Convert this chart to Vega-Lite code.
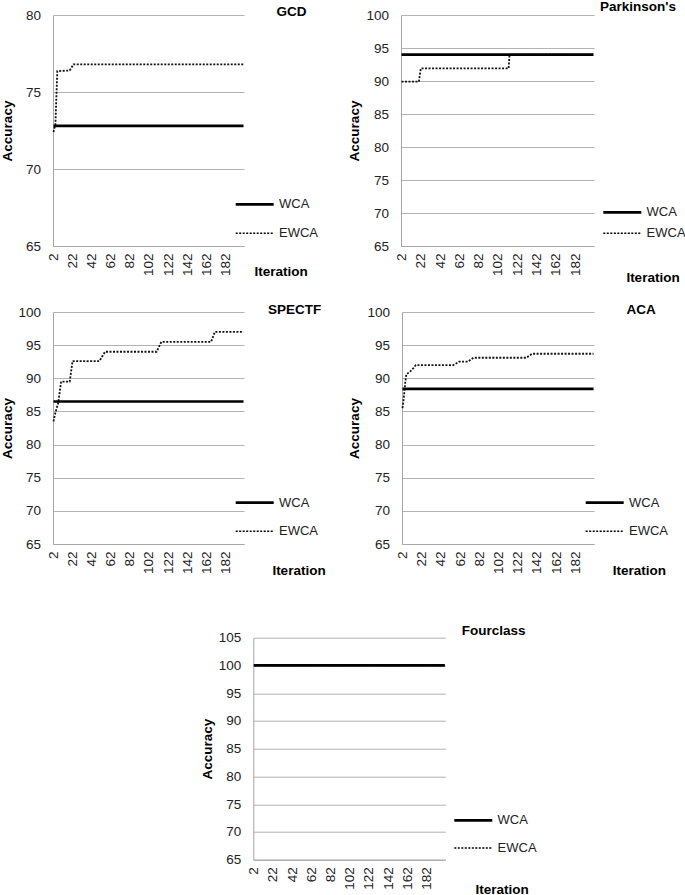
{
  "$schema": "https://vega.github.io/schema/vega-lite/v6.json",
  "padding": {"left": 0, "top": 0, "right": 0, "bottom": 0},
  "background": "white",
  "config": {
    "font": "Liberation Sans",
    "view": {"stroke": null},
    "axis": {
      "labelFont": "Liberation Sans", "labelFontSize": 13.5, "labelColor": "#222222",
      "titleFont": "Liberation Sans", "titleFontSize": 13.5, "titleFontWeight": "bold", "titleColor": "#000000",
      "ticks": false, "domainColor": "#a6a6a6", "domainWidth": 1, "gridColor": "#b3b3b3", "gridWidth": 1
    },
    "axisX": {"grid": false, "labelAngle": -90, "labelPadding": 7, "titleBaseline": "alphabetic", "titleAlign": "center"},
    "axisY": {"grid": true, "labelPadding": 12.5, "titleBaseline": "middle", "titleAngle": -90},
    "legend": {
      "labelFont": "Liberation Sans", "labelFontSize": 13, "labelColor": "#222222",
      "symbolType": "stroke", "symbolSize": 1444, "symbolStrokeColor": "black",
      "symbolOffset": 12.5, "labelOffset": 17.8, "padding": 0
    },
    "title": {"anchor": "start", "frame": "group", "offset": 0, "baseline": "alphabetic", "font": "Liberation Sans", "fontSize": 13.5, "fontWeight": "bold", "color": "#000000"}
  },
  "datasets": {
    "gcd": [
      {"method": "WCA", "iter": 2, "acc": 72.8}, {"method": "WCA", "iter": 201, "acc": 72.8},
      {"method": "EWCA", "iter": 2, "acc": 72.4}, {"method": "EWCA", "iter": 4, "acc": 72.9},
      {"method": "EWCA", "iter": 6, "acc": 76.35}, {"method": "EWCA", "iter": 19, "acc": 76.4},
      {"method": "EWCA", "iter": 23, "acc": 76.8}, {"method": "EWCA", "iter": 201, "acc": 76.8}
    ],
    "parkinsons": [
      {"method": "WCA", "iter": 2, "acc": 94.0}, {"method": "WCA", "iter": 201, "acc": 94.0},
      {"method": "EWCA", "iter": 2, "acc": 89.9}, {"method": "EWCA", "iter": 20, "acc": 89.9},
      {"method": "EWCA", "iter": 22, "acc": 91.9}, {"method": "EWCA", "iter": 113, "acc": 91.9},
      {"method": "EWCA", "iter": 114, "acc": 94.0}, {"method": "EWCA", "iter": 201, "acc": 94.0}
    ],
    "spectf": [
      {"method": "WCA", "iter": 2, "acc": 86.5}, {"method": "WCA", "iter": 201, "acc": 86.5},
      {"method": "EWCA", "iter": 2, "acc": 83.5}, {"method": "EWCA", "iter": 4, "acc": 84.8},
      {"method": "EWCA", "iter": 7, "acc": 86.3}, {"method": "EWCA", "iter": 10, "acc": 89.5},
      {"method": "EWCA", "iter": 19, "acc": 89.5}, {"method": "EWCA", "iter": 22, "acc": 92.6},
      {"method": "EWCA", "iter": 50, "acc": 92.6}, {"method": "EWCA", "iter": 56, "acc": 94.0},
      {"method": "EWCA", "iter": 110, "acc": 94.0}, {"method": "EWCA", "iter": 115, "acc": 95.5},
      {"method": "EWCA", "iter": 167, "acc": 95.5}, {"method": "EWCA", "iter": 171, "acc": 97.0},
      {"method": "EWCA", "iter": 201, "acc": 97.0}
    ],
    "aca": [
      {"method": "WCA", "iter": 2, "acc": 88.4}, {"method": "WCA", "iter": 201, "acc": 88.4},
      {"method": "EWCA", "iter": 2, "acc": 85.5}, {"method": "EWCA", "iter": 3, "acc": 86.5},
      {"method": "EWCA", "iter": 5, "acc": 89.5}, {"method": "EWCA", "iter": 6, "acc": 90.6},
      {"method": "EWCA", "iter": 9, "acc": 90.9}, {"method": "EWCA", "iter": 12, "acc": 91.3},
      {"method": "EWCA", "iter": 16, "acc": 92.0}, {"method": "EWCA", "iter": 55, "acc": 92.0},
      {"method": "EWCA", "iter": 61, "acc": 92.5}, {"method": "EWCA", "iter": 70, "acc": 92.5},
      {"method": "EWCA", "iter": 76, "acc": 93.1}, {"method": "EWCA", "iter": 131, "acc": 93.1},
      {"method": "EWCA", "iter": 137, "acc": 93.7}, {"method": "EWCA", "iter": 201, "acc": 93.7}
    ],
    "fourclass": [
      {"method": "WCA", "iter": 2, "acc": 100.0}, {"method": "WCA", "iter": 201, "acc": 100.0},
      {"method": "EWCA", "iter": 2, "acc": 100.0}, {"method": "EWCA", "iter": 201, "acc": 100.0}
    ]
  },
  "vconcat": [
    {
      "vconcat": [
        {
          "hconcat": [
            {
              "width": 191, "height": 231,
              "data": {"name": "gcd"},
              "title": {"text": "GCD", "dx": 223.4, "dy": 14.7},
              "encoding": {
                "x": {"field": "iter", "type": "quantitative", "scale": {"domain": [1.5, 201.5], "nice": false, "zero": false}, "axis": {"values": [2, 22, 42, 62, 82, 102, 122, 142, 162, 182], "title": "Iteration", "titleX": 227.7, "titleY": 29.3}},
                "y": {"field": "acc", "type": "quantitative", "scale": {"domain": [65, 80], "nice": false, "zero": false}, "axis": {"values": [65, 70, 75, 80], "title": "Accuracy", "titleX": -46}},
                "strokeDash": {"field": "method", "type": "nominal", "scale": {"domain": ["WCA", "EWCA"], "range": [[1, 0], [2, 1.5]]},
                  "legend": {"title": null, "orient": "none", "legendX": 182.7, "legendY": 182.8, "rowPadding": 15,
                    "encode": {"symbols": {"update": {"strokeWidth": {"signal": "datum.value === 'WCA' ? 2.7 : 1.5"}}}}}}
              },
              "layer": [
                {"transform": [{"filter": "datum.method === 'EWCA'"}], "mark": {"type": "line", "color": "#111111", "strokeWidth": 1.8}},
                {"transform": [{"filter": "datum.method === 'WCA'"}], "mark": {"type": "line", "color": "#000000", "strokeWidth": 2.7}}
              ]
            },
            {
              "width": 193, "height": 231,
              "data": {"name": "parkinsons"},
              "title": {"text": "Parkinson's", "dx": 199, "dy": 9.7},
              "encoding": {
                "x": {"field": "iter", "type": "quantitative", "scale": {"domain": [1.5, 201.5], "nice": false, "zero": false}, "axis": {"values": [2, 22, 42, 62, 82, 102, 122, 142, 162, 182], "title": "Iteration", "titleX": 251.5, "titleY": 35.7}},
                "y": {"field": "acc", "type": "quantitative", "scale": {"domain": [65, 100], "nice": false, "zero": false}, "axis": {"values": [65, 70, 75, 80, 85, 90, 95, 100], "title": "Accuracy", "titleX": -47}},
                "strokeDash": {"field": "method", "type": "nominal", "scale": {"domain": ["WCA", "EWCA"], "range": [[1, 0], [2, 1.5]]},
                  "legend": {"title": null, "orient": "none", "legendX": 202.3, "legendY": 190.8, "rowPadding": 7,
                    "encode": {"symbols": {"update": {"strokeWidth": {"signal": "datum.value === 'WCA' ? 2.7 : 1.5"}}}}}}
              },
              "layer": [
                {"transform": [{"filter": "datum.method === 'EWCA'"}], "mark": {"type": "line", "color": "#111111", "strokeWidth": 1.8}},
                {"transform": [{"filter": "datum.method === 'WCA'"}], "mark": {"type": "line", "color": "#000000", "strokeWidth": 2.7}}
              ]
            }
          ],
          "spacing": 157, "bounds": "flush",
          "resolve": {"scale": {"strokeDash": "independent"}}
        },
        {
          "hconcat": [
            {
              "width": 191, "height": 232,
              "data": {"name": "spectf"},
              "title": {"text": "SPECTF", "dx": 215, "dy": 15.3},
              "encoding": {
                "x": {"field": "iter", "type": "quantitative", "scale": {"domain": [1.5, 201.5], "nice": false, "zero": false}, "axis": {"values": [2, 22, 42, 62, 82, 102, 122, 142, 162, 182], "title": "Iteration", "titleX": 245.5, "titleY": 30}},
                "y": {"field": "acc", "type": "quantitative", "scale": {"domain": [65, 100], "nice": false, "zero": false}, "axis": {"values": [65, 70, 75, 80, 85, 90, 95, 100], "title": "Accuracy", "titleX": -46}},
                "strokeDash": {"field": "method", "type": "nominal", "scale": {"domain": ["WCA", "EWCA"], "range": [[1, 0], [2, 1.5]]},
                  "legend": {"title": null, "orient": "none", "legendX": 182.7, "legendY": 184.1, "rowPadding": 14.7,
                    "encode": {"symbols": {"update": {"strokeWidth": {"signal": "datum.value === 'WCA' ? 2.7 : 1.5"}}}}}}
              },
              "layer": [
                {"transform": [{"filter": "datum.method === 'EWCA'"}], "mark": {"type": "line", "color": "#111111", "strokeWidth": 1.8}},
                {"transform": [{"filter": "datum.method === 'WCA'"}], "mark": {"type": "line", "color": "#000000", "strokeWidth": 2.7}}
              ]
            },
            {
              "width": 192, "height": 232,
              "data": {"name": "aca"},
              "title": {"text": "ACA", "dx": 224.4, "dy": 15.3},
              "encoding": {
                "x": {"field": "iter", "type": "quantitative", "scale": {"domain": [1.5, 201.5], "nice": false, "zero": false}, "axis": {"values": [2, 22, 42, 62, 82, 102, 122, 142, 162, 182], "title": "Iteration", "titleX": 236.8, "titleY": 30}},
                "y": {"field": "acc", "type": "quantitative", "scale": {"domain": [65, 100], "nice": false, "zero": false}, "axis": {"values": [65, 70, 75, 80, 85, 90, 95, 100], "title": "Accuracy", "titleX": -48}},
                "strokeDash": {"field": "method", "type": "nominal", "scale": {"domain": ["WCA", "EWCA"], "range": [[1, 0], [2, 1.5]]},
                  "legend": {"title": null, "orient": "none", "legendX": 183.7, "legendY": 184.1, "rowPadding": 14.7,
                    "encode": {"symbols": {"update": {"strokeWidth": {"signal": "datum.value === 'WCA' ? 2.7 : 1.5"}}}}}}
              },
              "layer": [
                {"transform": [{"filter": "datum.method === 'EWCA'"}], "mark": {"type": "line", "color": "#111111", "strokeWidth": 1.8}},
                {"transform": [{"filter": "datum.method === 'WCA'"}], "mark": {"type": "line", "color": "#000000", "strokeWidth": 2.7}}
              ]
            }
          ],
          "spacing": 158, "bounds": "flush",
          "resolve": {"scale": {"strokeDash": "independent"}}
        }
      ],
      "spacing": 17, "bounds": "full",
      "resolve": {"scale": {"strokeDash": "independent"}}
    },
    {
      "hconcat": [
        {"width": 1, "height": 1, "data": {"values": []}, "mark": "point"},
        {
          "width": 192, "height": 222,
          "data": {"name": "fourclass"},
          "title": {"text": "Fourclass", "dx": 208.4, "dy": 10.7},
          "encoding": {
            "x": {"field": "iter", "type": "quantitative", "scale": {"domain": [1.5, 201.5], "nice": false, "zero": false}, "axis": {"values": [2, 22, 42, 62, 82, 102, 122, 142, 162, 182], "title": "Iteration", "titleX": 248.3, "titleY": 33.5}},
            "y": {"field": "acc", "type": "quantitative", "scale": {"domain": [65, 105], "nice": false, "zero": false}, "axis": {"values": [65, 70, 75, 80, 85, 90, 95, 100, 105], "title": "Accuracy", "titleX": -45.8}},
            "strokeDash": {"field": "method", "type": "nominal", "scale": {"domain": ["WCA", "EWCA"], "range": [[1, 0], [2, 1.5]]},
              "legend": {"title": null, "orient": "none", "legendX": 201, "legendY": 176.2, "rowPadding": 13.6,
                "encode": {"symbols": {"update": {"strokeWidth": {"signal": "datum.value === 'WCA' ? 2.7 : 1.5"}}}}}}
          },
          "layer": [
            {"transform": [{"filter": "datum.method === 'EWCA'"}], "mark": {"type": "line", "color": "#111111", "strokeWidth": 1.8}},
            {"transform": [{"filter": "datum.method === 'WCA'"}], "mark": {"type": "line", "color": "#000000", "strokeWidth": 2.7}}
          ]
        }
      ],
      "spacing": 199.3, "bounds": "flush",
      "resolve": {"scale": {"strokeDash": "independent"}}
    }
  ],
  "spacing": 46.7, "bounds": "full",
  "resolve": {"scale": {"strokeDash": "independent"}}
}
